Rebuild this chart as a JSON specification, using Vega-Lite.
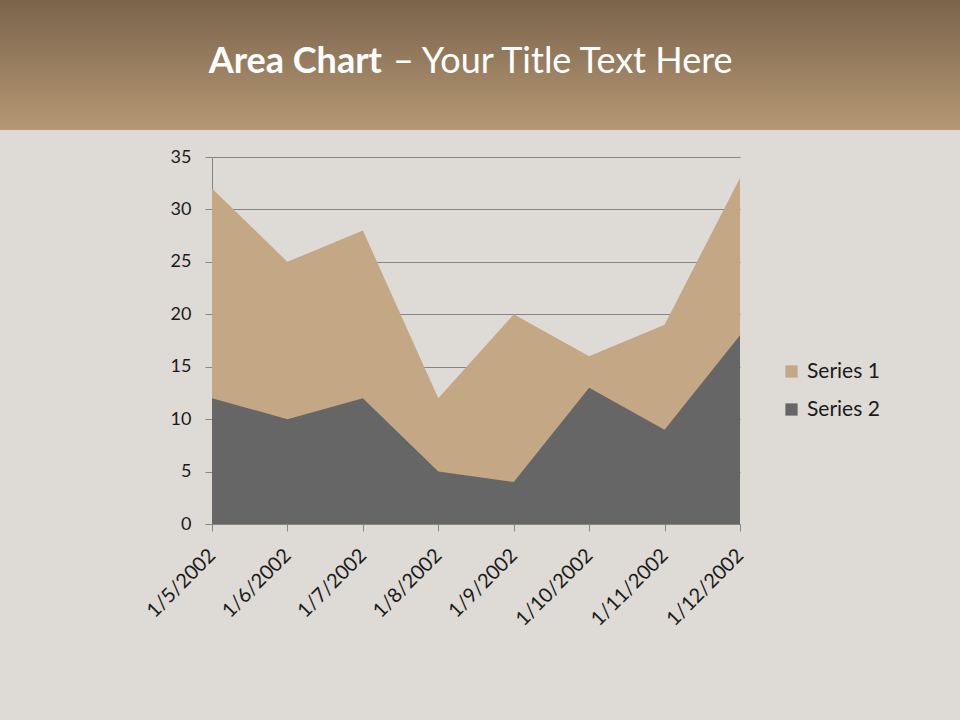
{
  "$schema": "https://vega.github.io/schema/vega-lite/v6.json",
  "background": "#dedad5",
  "padding": 0,
  "spacing": 27,
  "bounds": "flush",
  "config": {
    "font": "Lato",
    "view": {"stroke": null},
    "axis": {
      "labelFont": "Lato",
      "labelFontSize": 18,
      "labelColor": "#1a1a1a",
      "domainColor": "#868686",
      "tickColor": "#868686",
      "gridColor": "#868686",
      "gridOpacity": 1
    }
  },
  "vconcat": [
    {
      "width": 960,
      "height": 130,
      "view": {
        "stroke": null,
        "fill": {
          "gradient": "linear",
          "x1": 0, "y1": 0, "x2": 0, "y2": 1,
          "stops": [
            {"offset": 0, "color": "#7b644c"},
            {"offset": 1, "color": "#b59874"}
          ]
        }
      },
      "layer": [
        {
          "data": {"values": [{"part": "Area Chart"}]},
          "mark": {"type": "text", "align": "right", "baseline": "alphabetic", "dx": -98, "dy": 8, "font": "Lato", "fontSize": 36, "fontWeight": "bold", "color": "#ffffff"},
          "encoding": {"text": {"field": "part"}}
        },
        {
          "data": {"values": [{"part": "– Your Title Text Here"}]},
          "mark": {"type": "text", "align": "left", "baseline": "alphabetic", "dx": -87, "dy": 8, "font": "Lato", "fontSize": 36, "fontWeight": "normal", "color": "#ffffff"},
          "encoding": {"text": {"field": "part"}}
        }
      ]
    },
    {
      "spacing": 0,
      "bounds": "flush",
      "hconcat": [
        {
          "width": 212,
          "height": 10,
          "data": {"values": []},
          "mark": "point"
        },
        {
          "width": 528,
          "height": 367,
          "data": {
            "values": [
              {"date": "1/5/2002", "series": "Series 1", "value": 32},
              {"date": "1/6/2002", "series": "Series 1", "value": 25},
              {"date": "1/7/2002", "series": "Series 1", "value": 28},
              {"date": "1/8/2002", "series": "Series 1", "value": 12},
              {"date": "1/9/2002", "series": "Series 1", "value": 20},
              {"date": "1/10/2002", "series": "Series 1", "value": 16},
              {"date": "1/11/2002", "series": "Series 1", "value": 19},
              {"date": "1/12/2002", "series": "Series 1", "value": 33},
              {"date": "1/5/2002", "series": "Series 2", "value": 12},
              {"date": "1/6/2002", "series": "Series 2", "value": 10},
              {"date": "1/7/2002", "series": "Series 2", "value": 12},
              {"date": "1/8/2002", "series": "Series 2", "value": 5},
              {"date": "1/9/2002", "series": "Series 2", "value": 4},
              {"date": "1/10/2002", "series": "Series 2", "value": 13},
              {"date": "1/11/2002", "series": "Series 2", "value": 9},
              {"date": "1/12/2002", "series": "Series 2", "value": 18}
            ]
          },
          "encoding": {
            "x": {
              "field": "date",
              "type": "ordinal",
              "sort": ["1/5/2002", "1/6/2002", "1/7/2002", "1/8/2002", "1/9/2002", "1/10/2002", "1/11/2002", "1/12/2002"],
              "scale": {"type": "point", "padding": 0},
              "title": ["Date", " "],
              "axis": {"labelAngle": -45, "labelAlign": "right", "labelBaseline": "middle", "labelFontSize": 20, "tickSize": 7, "labelPadding": 21, "grid": false, "titleOpacity": 0, "titleFontSize": 12, "titleLineHeight": 40, "titlePadding": 46}
            },
            "y": {
              "field": "value",
              "type": "quantitative",
              "stack": null,
              "scale": {"domain": [0, 35], "nice": false},
              "title": null,
              "axis": {"values": [0, 5, 10, 15, 20, 25, 30, 35], "tickSize": 7, "labelPadding": 14, "grid": true}
            },
            "color": {
              "field": "series",
              "type": "nominal",
              "scale": {"domain": ["Series 1", "Series 2"], "range": ["#c4a886", "#666666"]},
              "legend": {
                "orient": "none",
                "legendX": 781,
                "legendY": 361,
                "title": null,
                "symbolType": "square",
                "symbolSize": 150,
                "symbolStrokeWidth": 0,
                "symbolOpacity": 1,
                "labelFont": "Lato",
                "labelFontSize": 21,
                "labelColor": "#1a1a1a",
                "labelOffset": 5,
                "rowPadding": 16
              }
            }
          },
          "layer": [
            {
              "transform": [{"filter": "datum.series === 'Series 1'"}],
              "mark": {"type": "area", "opacity": 1}
            },
            {
              "transform": [{"filter": "datum.series === 'Series 2'"}],
              "mark": {"type": "area", "opacity": 1}
            }
          ]
        }
      ]
    }
  ]
}
